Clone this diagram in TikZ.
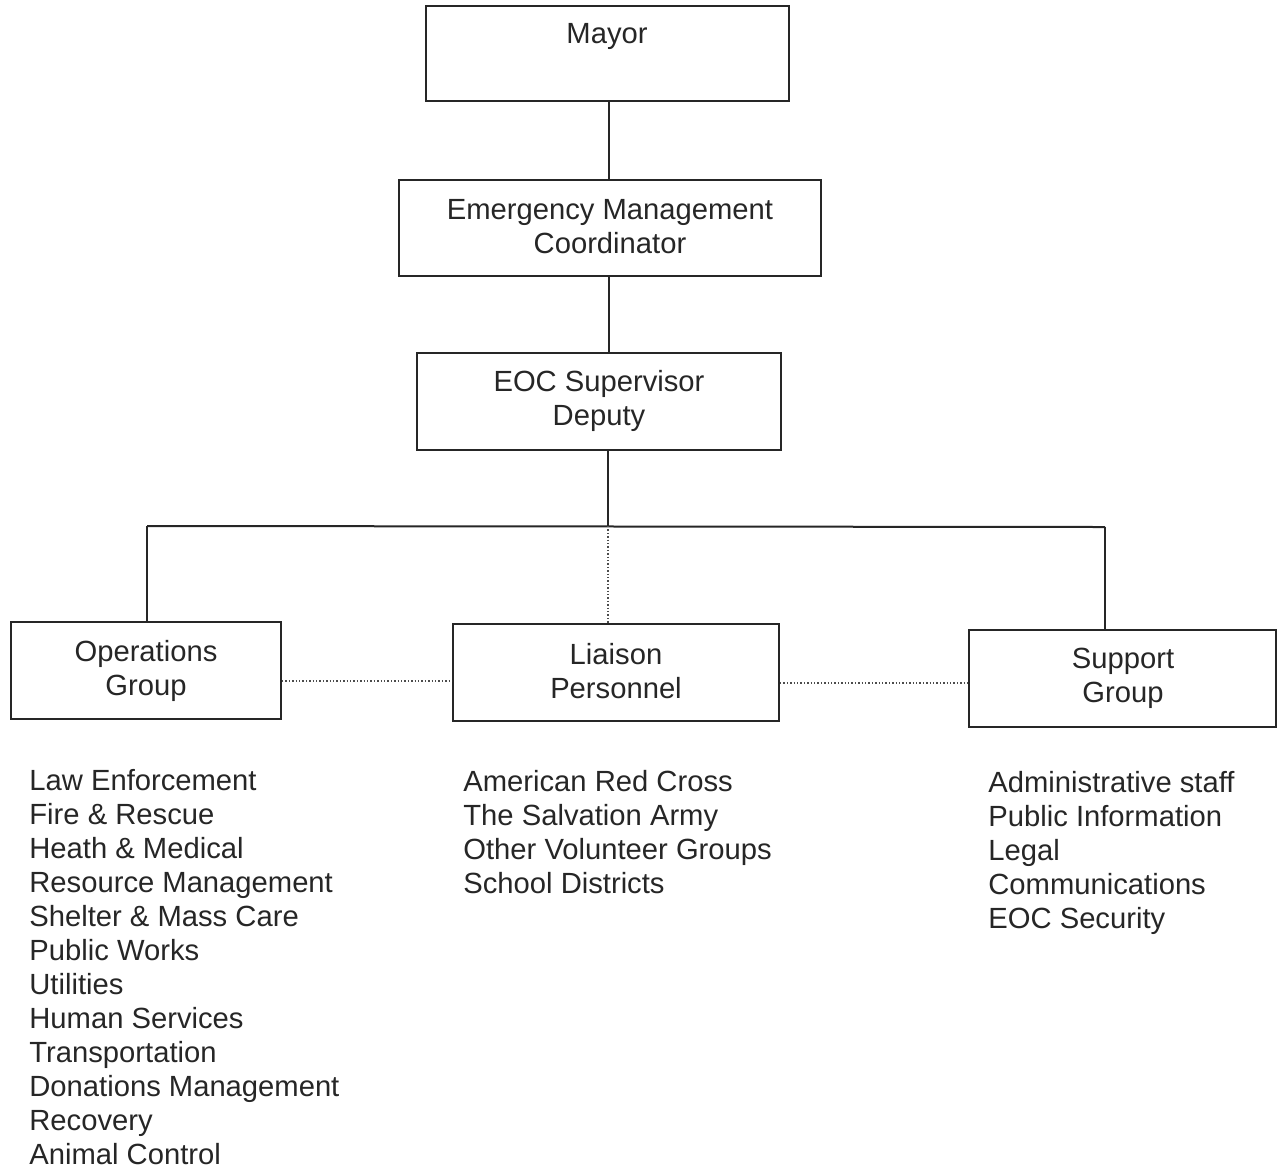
\documentclass[tikz,border=0pt]{standalone}
\usepackage{fontspec}
\setmainfont{Liberation Sans}
\begin{document}
\begin{tikzpicture}[x=0.5pt,y=-0.5pt,
  box/.style={draw=black!85, line width=1pt, rectangle, inner sep=0pt},
  lbl/.style={font=\fontsize{14.6pt}{17pt}\selectfont, align=center, inner sep=0pt, text=black!85},
  lst/.style={font=\fontsize{14.6pt}{17pt}\selectfont, align=left, inner sep=0pt, anchor=north west, text=black!85},
  conn/.style={draw=black!85, line width=1pt},
  dconn/.style={draw=black!70, line width=0.7pt, densely dotted}]
\useasboundingbox (0,0) rectangle (1278,1168);
% boxes
\node[box, minimum width=181.5pt, minimum height=47.5pt] (mayor) at (607.5,53.5) {};
\node[box, minimum width=211pt, minimum height=48pt] (emc) at (610,228) {};
\node[box, minimum width=182pt, minimum height=48.5pt] (eoc) at (599,401.5) {};
\node[box, minimum width=135pt, minimum height=48.5pt] (ops) at (146,670.5) {};
\node[box, minimum width=163pt, minimum height=48.5pt] (liaison) at (616,672.5) {};
\node[box, minimum width=153.5pt, minimum height=48.5pt] (sup) at (1122.5,678.5) {};
% box texts
\node[lbl] (mayort) at (607,36) {Mayor};
\node[lbl] (emct) at (610,227) {Emergency Management\\Coordinator};
\node[lbl] (eoct) at (599,401) {EOC Supervisor\\Deputy};
\node[lbl] (opst) at (146,671) {Operations\\Group};
\node[lbl] (liat) at (616,671) {Liaison\\Personnel};
\node[lbl] (supt) at (1123,678) {Support\\Group};
% connectors
\coordinate (bus) at (608,526);
\coordinate (busL) at (147,526);
\coordinate (busR) at (1105,527);
\coordinate (dl1) at (0,681);
\coordinate (dl2) at (0,683);
\draw[conn] (mayor.south -| 609,0) -- (emc.north -| 609,0);
\draw[conn] (emc.south -| 609,0) -- (eoc.north -| 609,0);
\draw[conn] (eoc.south -| bus) -- (bus);
\draw[conn] (busL) -- (busR);
\draw[conn] (busL) -- (busL |- ops.north);
\draw[conn] (busR) -- (busR |- sup.north);
\draw[dconn] (bus) -- (bus |- liaison.north);
\draw[dconn] (ops.east |- dl1) -- (liaison.west |- dl1);
\draw[dconn] (liaison.east |- dl2) -- (sup.west |- dl2);
% lists
\node[lst] (opslist) at (29,769) {Law Enforcement\\Fire \& Rescue\\Heath \& Medical\\Resource Management\\Shelter \& Mass Care\\Public Works\\Utilities\\Human Services\\Transportation\\Donations Management\\Recovery\\Animal Control};
\node[lst] (lialist) at (463,770) {American Red Cross\\The Salvation Army\\Other Volunteer Groups\\School Districts};
\node[lst] (suplist) at (988,771) {Administrative staff\\Public Information\\Legal\\Communications\\EOC Security};
\end{tikzpicture}
\end{document}
